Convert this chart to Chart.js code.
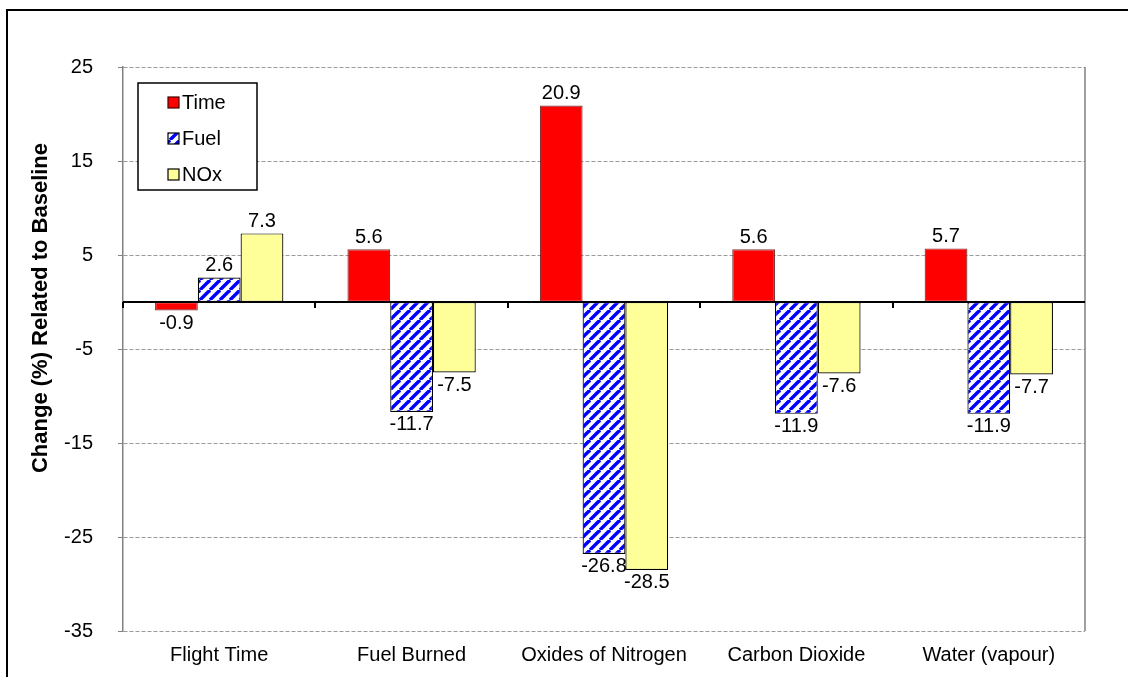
<!DOCTYPE html>
<html>
<head>
<meta charset="utf-8">
<script src="https://cdn.jsdelivr.net/npm/chart.js@4.4.1/dist/chart.umd.min.js"></script>
<style>
  html, body { margin: 0; padding: 0; background: #fff; }
  #wrap { width: 1128px; height: 677px; position: relative; }
</style>
</head>
<body>
<div id="wrap"><canvas id="chart" width="1128" height="677"></canvas></div>
<script>
// emissions change per routing objective, % vs baseline
const categories = ["Flight Time", "Fuel Burned", "Oxides of Nitrogen", "Carbon Dioxide", "Water (vapour)"];
const timeValues = [-0.9, 5.6, 20.9, 5.6, 5.7];
const fuelValues = [2.6, -11.7, -26.8, -11.9, -11.9];
const noxValues = [7.3, -7.5, -28.5, -7.6, -7.7];
const seriesNames = ["Time", "Fuel", "NOx"];
const yTicks = [-35, -25, -15, -5, 5, 15, 25];
const yTitle = "Change (%) Related to Baseline";

const FONT = "'Liberation Sans', Arial, sans-serif";

// blue diagonal hatch for the Fuel series
function makeHatch() {
  const size = 10;
  const c = document.createElement("canvas");
  c.width = size;
  c.height = size;
  const g = c.getContext("2d");
  g.fillStyle = "#fff";
  g.fillRect(0, 0, size, size);
  g.strokeStyle = "#0000ff";
  g.lineWidth = 3.4;
  for (let o = -size; o <= size; o += size) {
    g.beginPath();
    g.moveTo(o, size);
    g.lineTo(o + size, 0);
    g.stroke();
  }
  return g.createPattern(c, "repeat");
}
const hatch = makeHatch();

const fills = ["#ff0000", hatch, "#ffff99"];
const borders = ["rgba(110,20,20,0.85)", "#000", "#000"];

// frame, axis title, right plot edge and the zero line with its category ticks
const framePlugin = {
  id: "frame",
  beforeDraw(chart) {
    const ctx = chart.ctx;
    ctx.save();
    ctx.fillStyle = "#fff";
    ctx.fillRect(0, 0, chart.width, chart.height);
    ctx.strokeStyle = "#000";
    ctx.lineWidth = 2;
    ctx.beginPath();
    ctx.moveTo(7, chart.height);
    ctx.lineTo(7, 10);
    ctx.lineTo(chart.width, 10);
    ctx.stroke();

    ctx.translate(41, 308);
    ctx.rotate(-Math.PI / 2);
    ctx.font = "bold 22px " + FONT;
    ctx.fillStyle = "#000";
    ctx.textAlign = "center";
    ctx.textBaseline = "middle";
    ctx.fillText(yTitle, 0, 0);
    ctx.restore();
  },
  afterDatasetsDraw(chart) {
    const ctx = chart.ctx;
    const a = chart.chartArea;
    const y0 = Math.round(chart.scales.y.getPixelForValue(0));
    ctx.save();
    ctx.strokeStyle = "#808080";
    ctx.lineWidth = 1.5;
    ctx.beginPath();
    ctx.moveTo(a.right, a.top);
    ctx.lineTo(a.right, a.bottom);
    ctx.stroke();

    ctx.strokeStyle = "#000";
    ctx.lineWidth = 2;
    ctx.beginPath();
    ctx.moveTo(a.left, y0);
    ctx.lineTo(a.right, y0);
    const step = (a.right - a.left) / categories.length;
    for (let i = 0; i < categories.length; i++) {
      const tx = Math.round(a.left + step * i);
      ctx.moveTo(tx, y0);
      ctx.lineTo(tx, y0 + 6);
    }
    ctx.stroke();
    ctx.restore();
  }
};

// value labels above / below each bar
const valueLabels = {
  id: "valueLabels",
  afterDraw(chart) {
    const ctx = chart.ctx;
    ctx.save();
    ctx.font = "20px " + FONT;
    ctx.fillStyle = "#000";
    ctx.textAlign = "center";
    ctx.textBaseline = "middle";
    chart.data.datasets.forEach((ds, di) => {
      chart.getDatasetMeta(di).data.forEach((bar, i) => {
        const v = ds.data[i];
        const yy = v >= 0 ? bar.y - 12 : bar.y + 13;
        ctx.fillText(v.toFixed(1), bar.x, yy);
      });
    });
    ctx.restore();
  }
};

// boxed legend inside the plot
const boxLegend = {
  id: "boxLegend",
  afterDraw(chart) {
    const ctx = chart.ctx;
    const bx = 138, by = 83, bw = 119, bh = 107;
    ctx.save();
    ctx.fillStyle = "#fff";
    ctx.fillRect(bx, by, bw, bh);
    ctx.strokeStyle = "#000";
    ctx.lineWidth = 1.5;
    ctx.strokeRect(bx, by, bw, bh);
    ctx.font = "20px " + FONT;
    ctx.textBaseline = "middle";
    seriesNames.forEach((name, i) => {
      const cy = 102 + i * 36;
      ctx.fillStyle = fills[i];
      ctx.fillRect(168, cy - 5, 11, 11);
      ctx.strokeStyle = i === 0 ? "#400" : "#000";
      ctx.lineWidth = 1.2;
      ctx.strokeRect(168, cy - 5, 11, 11);
      ctx.fillStyle = "#000";
      ctx.fillText(name, 182, cy + 1);
    });
    ctx.restore();
  }
};

const seriesValues = [timeValues, fuelValues, noxValues];

new Chart(document.getElementById("chart"), {
  type: "bar",
  data: {
    labels: categories,
    datasets: seriesNames.map((name, i) => ({
      label: name,
      data: seriesValues[i],
      backgroundColor: fills[i],
      borderColor: borders[i],
      borderWidth: 1.2,
      borderSkipped: false,
      categoryPercentage: 0.667,
      barPercentage: 1.0,
    })),
  },
  options: {
    responsive: false,
    animation: false,
    events: [],
    layout: { padding: { top: 67, right: 43, left: 0, bottom: 0 } },
    plugins: {
      legend: { display: false },
      tooltip: { enabled: false },
    },
    scales: {
      x: {
        grid: { display: false, drawTicks: false },
        border: { display: false },
        ticks: { color: "#000", font: { family: FONT, size: 20 }, padding: 12, maxRotation: 0 },
        afterFit: (s) => { s.height = 46; },
      },
      y: {
        min: -35,
        max: 25,
        afterBuildTicks: (s) => { s.ticks = yTicks.map((v) => ({ value: v })); },
        grid: { color: "#9a9a9a", lineWidth: 1, tickLength: 5, tickColor: "#808080" },
        border: { display: true, color: "#808080", width: 1.5, dash: [4, 2] },
        ticks: { color: "#000", font: { family: FONT, size: 20 }, padding: 25 },
        afterFit: (s) => { s.width = 123; },
      },
    },
  },
  plugins: [framePlugin, valueLabels, boxLegend],
});
</script>
</body>
</html>
